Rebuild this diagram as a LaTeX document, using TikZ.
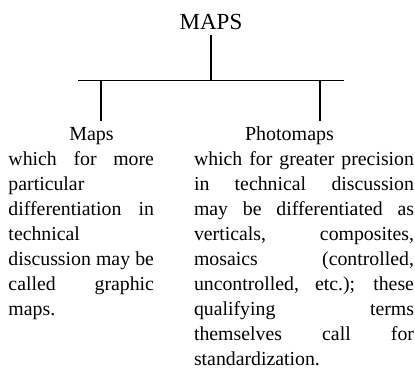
\documentclass[tikz,border=0pt]{standalone}
\usepackage{fontspec}
\setmainfont{Liberation Serif}
\tikzset{
  conn/.style={line width=1.6pt, line cap=rect},
  body/.style={anchor=north west, inner sep=0pt, outer sep=0pt, align=justify,
    font=\fontsize{19.8}{25}\selectfont},
  head/.style={anchor=base, inner sep=0pt, font=\fontsize{20}{25}\selectfont},
}
\newcommand{\firststrut}{\tolerance=10000 \hyphenpenalty=10000 \exhyphenpenalty=10000 \leavevmode\vrule height 15pt depth 0pt width 0pt\relax}
\begin{document}
\begin{tikzpicture}[x=1pt,y=1pt]
\useasboundingbox (0,0) rectangle (415,-374);
% title
\node[anchor=base, inner sep=0pt, font=\fontsize{23}{27}\selectfont] (top) at (211,-29.3) {MAPS};
% junction coordinates
\coordinate (topend) at (211,-36);
\coordinate (hm) at (211,-80.5);
\coordinate (hl) at (78,-80.5);
\coordinate (hr) at (344,-80.5);
\coordinate (lb) at (100.7,-80.5);
\coordinate (rb) at (320,-80.5);
\coordinate (lend) at (100.7,-120.7);
\coordinate (rend) at (320,-120.7);
% headings
\node[head] (maps) at (91.5,-140.7) {Maps};
\node[head] (photo) at (289.5,-140.7) {Photomaps};
% bodies
\node[body, text width=145.5pt] (ltext) at (8.5,-150.7) {\firststrut which for more\linebreak particular\linebreak differentiation in\linebreak technical\linebreak discussion may be\linebreak called graphic\linebreak maps.};
\node[body, text width=220pt] (rtext) at (194,-150.7) {\firststrut which for greater precision\linebreak in technical discussion\linebreak may be differentiated as\linebreak verticals, composites,\linebreak mosaics (controlled,\linebreak uncontrolled, etc.); these\linebreak qualifying terms\linebreak themselves call for\linebreak standardization.};
% connectors
\draw[conn] (topend) -- (hm);
\draw[line width=1.6pt] (hl) -- (hr);
\draw[conn] (lb) -- (lend);
\draw[conn] (rb) -- (rend);
\end{tikzpicture}
\end{document}
